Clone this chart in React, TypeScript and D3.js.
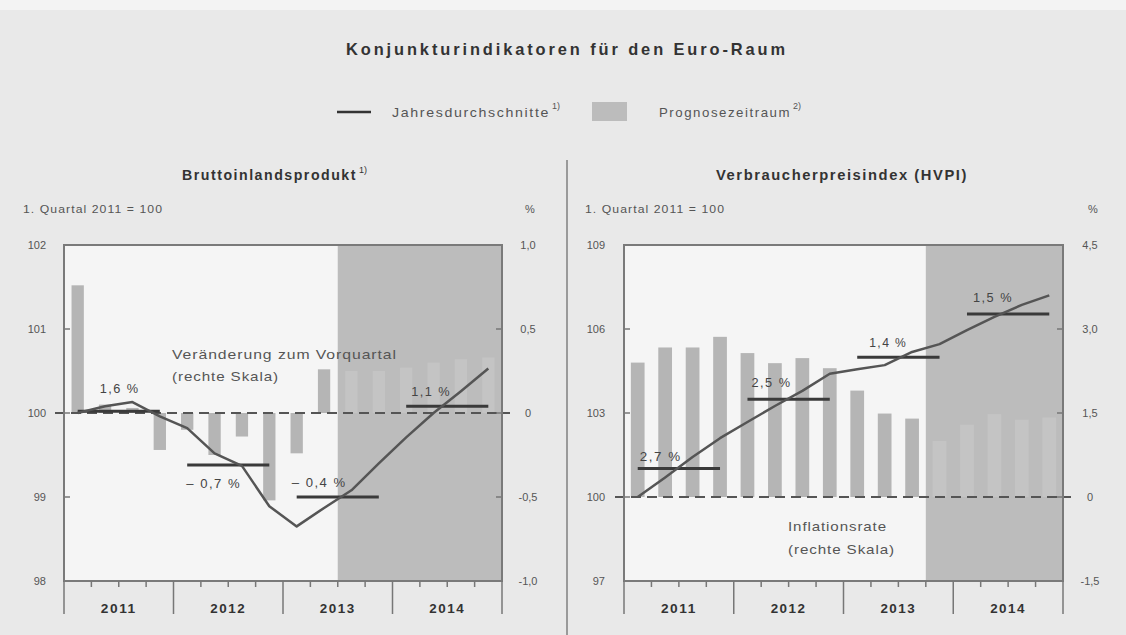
import React from 'react';
import * as d3 from 'd3';

const quarters = [
  '2011Q1', '2011Q2', '2011Q3', '2011Q4',
  '2012Q1', '2012Q2', '2012Q3', '2012Q4',
  '2013Q1', '2013Q2', '2013Q3', '2013Q4',
  '2014Q1', '2014Q2', '2014Q3', '2014Q4',
];
const years = ['2011', '2012', '2013', '2014'];

// Bruttoinlandsprodukt
const gdpIndex = [100.0, 100.08, 100.13, 99.96, 99.82, 99.52, 99.37, 98.89, 98.65, 98.87, 99.08, 99.4, 99.71, 100.0, 100.26, 100.53];
const gdpChange = [0.76, 0.05, 0.03, -0.22, -0.1, -0.25, -0.14, -0.52, -0.24, 0.26, 0.25, 0.25, 0.27, 0.3, 0.32, 0.33];
const gdpAnnualAvg = [100.02, 99.38, 99.0, 100.08];
const gdpAnnualLabels = ['1,6 %', '– 0,7 %', '– 0,4 %', '1,1 %'];
const gdpForecastStart = '2013Q3';
const gdpLeftTicks = [98, 99, 100, 101, 102];
const gdpRightTicks = [-1, -0.5, 0, 0.5, 1];

// Verbraucherpreisindex (HVPI)
const hicpIndex = [100.0, 100.7, 101.43, 102.1, 102.68, 103.25, 103.79, 104.4, 104.56, 104.71, 105.18, 105.46, 105.96, 106.43, 106.86, 107.2];
const hicpRate = [2.4, 2.67, 2.67, 2.86, 2.57, 2.39, 2.48, 2.3, 1.9, 1.49, 1.4, 1.0, 1.29, 1.48, 1.38, 1.42];
const hicpAnnualAvg = [101.02, 103.49, 104.99, 106.54];
const hicpAnnualLabels = ['2,7 %', '2,5 %', '1,4 %', '1,5 %'];
const hicpForecastStart = '2013Q4';
const hicpLeftTicks = [97, 100, 103, 106, 109];
const hicpRightTicks = [-1.5, 0, 1.5, 3, 4.5];

const FONT = "'Liberation Sans Narrow', 'Liberation Sans', Arial, sans-serif";
const TOP = 245;
const BOTTOM = 581;

const fmtPct = (d: number) => (d === 0 ? '0' : d3.format('.1f')(d).replace('.', ',').replace('\u2212', '-'));

type TProps = {
  x: number;
  y: number;
  w: number;
  size: number;
  bold?: boolean;
  fill?: string;
  ls?: number;
  children: React.ReactNode;
};

function CText({ x, y, w, size, bold, fill = '#4a4a4a', ls = 1, children }: TProps) {
  return (
    <text
      x={x}
      y={y}
      fontSize={size}
      fontWeight={bold ? 'bold' : 'normal'}
      fill={fill}
      fontFamily={FONT}
      letterSpacing={ls}
      textLength={w}
      lengthAdjust="spacingAndGlyphs"
    >
      {children}
    </text>
  );
}

type PanelCfg = {
  left: number;
  right: number;
  leftDomain: [number, number];
  rightDomain: [number, number];
  index: number[];
  change: number[];
  avg: number[];
  avgLabels: string[];
  labelPos: { dx: number; dy: number; w: number }[];
  forecastStart: string;
  leftTicks: number[];
  rightTicks: number[];
  barFrac: number;
  leftLabelX: number;
  rightLabelX: number;
  annotation: { x: number; y1: number; y2: number; l1: string; w1: number; l2: string; w2: number };
};

function Panel({ cfg }: { cfg: PanelCfg }) {
  const x = d3.scaleBand<string>().domain(quarters).range([cfg.left, cfg.right]);
  const bw = x.bandwidth();
  const cx = (q: string) => (x(q) as number) + bw / 2;
  const yL = d3.scaleLinear().domain(cfg.leftDomain).range([BOTTOM, TOP]);
  const yR = d3.scaleLinear().domain(cfg.rightDomain).range([BOTTOM, TOP]);
  const fIdx = quarters.indexOf(cfg.forecastStart);
  const fx = x(cfg.forecastStart) as number;
  const line = d3
    .line<number>()
    .x((_, i) => cx(quarters[i]))
    .y((d) => yL(d));
  const barW = bw * cfg.barFrac;
  const zeroY = yR(0);

  return (
    <g>
      <rect x={cfg.left} y={TOP} width={cfg.right - cfg.left} height={BOTTOM - TOP} fill="#f5f5f5" />
      <rect x={fx} y={TOP} width={cfg.right - fx} height={BOTTOM - TOP} fill="#bcbcbc" />
      {cfg.change.map((v, i) => (
        <rect
          key={i}
          x={cx(quarters[i]) - barW / 2}
          y={Math.min(yR(v), zeroY)}
          width={barW}
          height={Math.abs(yR(v) - zeroY)}
          fill={i >= fIdx ? '#c4c4c4' : '#b5b5b5'}
        />
      ))}
      <line x1={cfg.left - 9} x2={cfg.right + 8} y1={zeroY} y2={zeroY} stroke="#555" strokeWidth={2} strokeDasharray="10 6" />
      {cfg.leftTicks.map((t, i) => (
        <g key={'l' + i}>
          <line x1={cfg.left} x2={cfg.left + 6} y1={yL(t)} y2={yL(t)} stroke="#777" strokeWidth={1.5} />
          <text x={cfg.leftLabelX} y={yL(t) + 4} textAnchor="end" fontSize={11} fill="#555" fontFamily={FONT}>
            {t}
          </text>
        </g>
      ))}
      {cfg.rightTicks.map((t, i) => (
        <g key={'r' + i}>
          <line x1={cfg.right - 6} x2={cfg.right} y1={yR(t)} y2={yR(t)} stroke="#777" strokeWidth={1.5} />
          <text x={cfg.rightLabelX} y={yR(t) + 4} textAnchor="middle" fontSize={11} fill="#555" fontFamily={FONT}>
            {fmtPct(t)}
          </text>
        </g>
      ))}
      {years.map((yr, k) => {
        const x1 = cx(quarters[k * 4]);
        const x2 = cx(quarters[k * 4 + 3]);
        const yy = yL(cfg.avg[k]);
        const p = cfg.labelPos[k];
        return (
          <g key={yr}>
            <line x1={x1} x2={x2} y1={yy} y2={yy} stroke="#3a3a3a" strokeWidth={3} />
            <CText x={x1 + p.dx} y={yy + p.dy} w={p.w} size={13} fill="#444" ls={1.5}>
              {cfg.avgLabels[k]}
            </CText>
          </g>
        );
      })}
      <path d={line(cfg.index) as string} fill="none" stroke="#555" strokeWidth={2.5} strokeLinejoin="round" />
      <rect x={cfg.left} y={TOP} width={cfg.right - cfg.left} height={BOTTOM - TOP} fill="none" stroke="#7a7a7a" strokeWidth={2} />
      {quarters.map((q, i) =>
        i % 4 === 0 ? (
          <line key={q} x1={x(q)} x2={x(q)} y1={BOTTOM} y2={BOTTOM + 33} stroke="#777" strokeWidth={1.5} />
        ) : (
          <line key={q} x1={x(q)} x2={x(q)} y1={BOTTOM} y2={BOTTOM + 6} stroke="#777" strokeWidth={1.5} />
        )
      )}
      <line x1={cfg.right} x2={cfg.right} y1={BOTTOM} y2={BOTTOM + 33} stroke="#777" strokeWidth={1.5} />
      {years.map((yr, k) => {
        const x1 = x(quarters[k * 4]) as number;
        return (
          <CText key={yr} x={x1 + bw * 2 - 18} y={613} w={36} size={13} bold fill="#333" ls={1.5}>
            {yr}
          </CText>
        );
      })}
      <CText x={cfg.annotation.x} y={cfg.annotation.y1} w={cfg.annotation.w1} size={13.5} fill="#555" ls={0.8}>
        {cfg.annotation.l1}
      </CText>
      <CText x={cfg.annotation.x} y={cfg.annotation.y2} w={cfg.annotation.w2} size={13.5} fill="#555" ls={0.8}>
        {cfg.annotation.l2}
      </CText>
    </g>
  );
}

const gdpCfg: PanelCfg = {
  left: 64,
  right: 502,
  leftDomain: [98, 102],
  rightDomain: [-1, 1],
  index: gdpIndex,
  change: gdpChange,
  avg: gdpAnnualAvg,
  avgLabels: gdpAnnualLabels,
  labelPos: [
    { dx: 22, dy: -18, w: 40 },
    { dx: -1, dy: 23, w: 55 },
    { dx: -5, dy: -10, w: 55 },
    { dx: 5, dy: -10, w: 40 },
  ],
  forecastStart: gdpForecastStart,
  leftTicks: gdpLeftTicks,
  rightTicks: gdpRightTicks,
  barFrac: 0.45,
  leftLabelX: 46,
  rightLabelX: 528,
  annotation: { x: 172, y1: 359, y2: 381, l1: 'Veränderung zum Vorquartal', w1: 225, l2: '(rechte Skala)', w2: 107 },
};

const hicpCfg: PanelCfg = {
  left: 624,
  right: 1063,
  leftDomain: [97, 109],
  rightDomain: [-1.5, 4.5],
  index: hicpIndex,
  change: hicpRate,
  avg: hicpAnnualAvg,
  avgLabels: hicpAnnualLabels,
  labelPos: [
    { dx: 2, dy: -7, w: 42 },
    { dx: 4, dy: -12, w: 40 },
    { dx: 12, dy: -10, w: 38 },
    { dx: 6, dy: -12, w: 40 },
  ],
  forecastStart: hicpForecastStart,
  leftTicks: hicpLeftTicks,
  rightTicks: hicpRightTicks,
  barFrac: 0.5,
  leftLabelX: 605,
  rightLabelX: 1090,
  annotation: { x: 788, y1: 531, y2: 554, l1: 'Inflationsrate', w1: 99, l2: '(rechte Skala)', w2: 107 },
};

export default function App() {
  return (
    <svg
      width={1126}
      height={635}
      viewBox="0 0 1126 635"
      style={{ position: 'absolute', left: 0, top: 0, display: 'block' }}
    >
      <rect x={0} y={0} width={1126} height={635} fill="#e9e9e9" />
      <rect x={0} y={0} width={1126} height={10} fill="#f3f3f3" />
      <CText x={346} y={55} w={442} size={17} bold fill="#333" ls={3}>
        Konjunkturindikatoren für den Euro-Raum
      </CText>
      <line x1={337} x2={371} y1={112} y2={112} stroke="#333" strokeWidth={2.5} />
      <CText x={392} y={117} w={158} size={13} fill="#555" ls={1.5}>
        Jahresdurchschnitte
      </CText>
      <text x={552} y={109} fontSize={9} fill="#555" fontFamily={FONT}>
        1)
      </text>
      <rect x={592} y={102} width={35} height={19} fill="#bcbcbc" />
      <CText x={659} y={117} w={132} size={13} fill="#555" ls={1.5}>
        Prognosezeitraum
      </CText>
      <text x={793} y={109} fontSize={9} fill="#555" fontFamily={FONT}>
        2)
      </text>
      <CText x={182} y={180} w={175} size={14} bold fill="#333" ls={1.5}>
        Bruttoinlandsprodukt
      </CText>
      <text x={359} y={173} fontSize={9} fill="#333" fontFamily={FONT}>
        1)
      </text>
      <CText x={716} y={180} w={252} size={14} bold fill="#333" ls={1.5}>
        Verbraucherpreisindex (HVPI)
      </CText>
      <CText x={23} y={213} w={140} size={11.5} fill="#555" ls={1}>
        1. Quartal 2011 = 100
      </CText>
      <text x={530} y={213} fontSize={11} fill="#555" textAnchor="middle" fontFamily={FONT}>
        %
      </text>
      <CText x={585} y={213} w={140} size={11.5} fill="#555" ls={1}>
        1. Quartal 2011 = 100
      </CText>
      <text x={1093} y={213} fontSize={11} fill="#555" textAnchor="middle" fontFamily={FONT}>
        %
      </text>
      <line x1={567} x2={567} y1={160} y2={635} stroke="#9a9a9a" strokeWidth={2} />
      <Panel cfg={gdpCfg} />
      <Panel cfg={hicpCfg} />
    </svg>
  );
}
